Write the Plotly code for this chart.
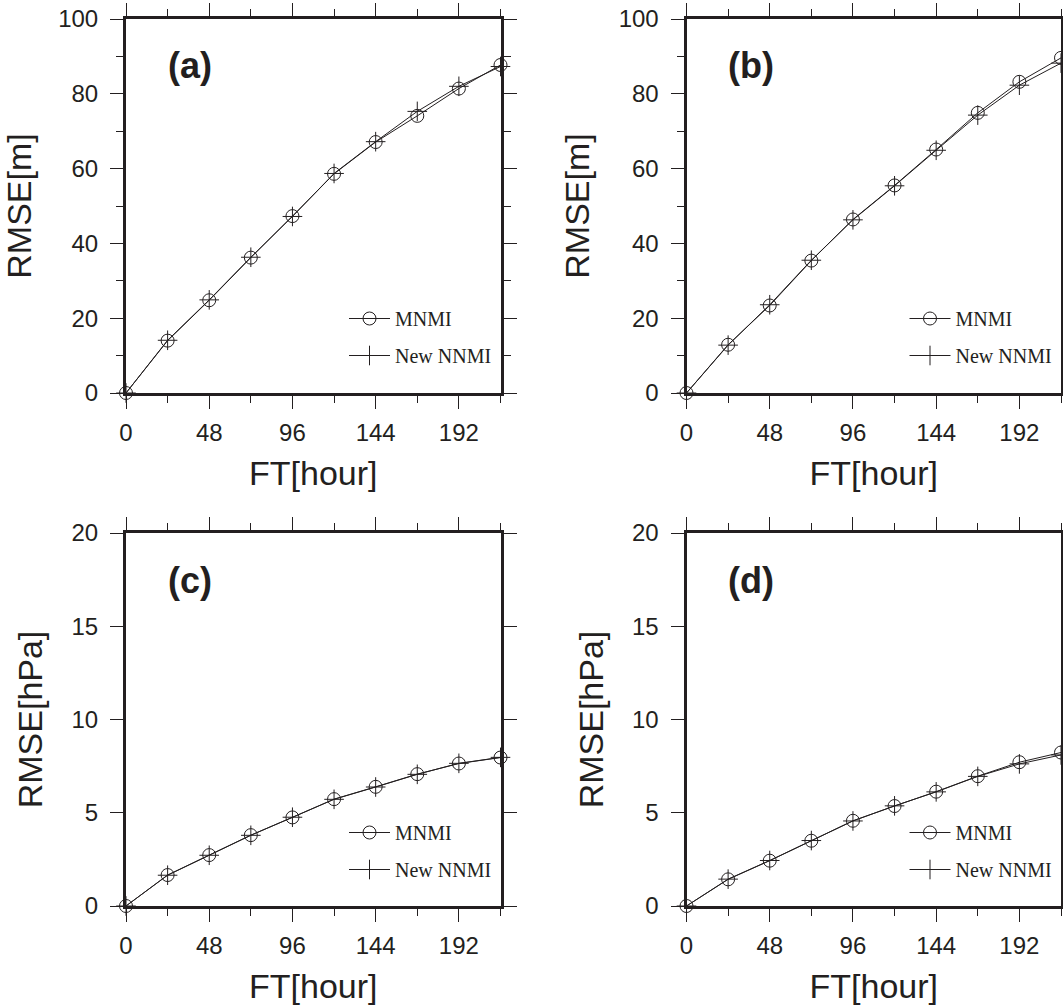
import plotly.graph_objects as go

ft = [0, 24, 48, 72, 96, 120, 144, 168, 192, 216]
a_mnmi = [0, 14.0, 24.8, 36.2, 47.3, 58.6, 67.1, 74.1, 81.4, 87.7]
a_new = [0, 14.1, 24.9, 36.3, 47.2, 58.7, 67.2, 75.3, 82.0, 87.3]
b_mnmi = [0, 12.9, 23.4, 35.4, 46.4, 55.5, 65.1, 74.9, 83.2, 89.6]
b_new = [0, 12.8, 23.6, 35.5, 46.3, 55.4, 64.9, 74.3, 82.3, 88.2]
c_mnmi = [0, 1.66, 2.73, 3.80, 4.75, 5.73, 6.39, 7.07, 7.64, 7.96]
c_new = [0, 1.65, 2.72, 3.79, 4.76, 5.72, 6.38, 7.06, 7.65, 7.97]
d_mnmi = [0, 1.43, 2.43, 3.50, 4.57, 5.36, 6.13, 6.96, 7.71, 8.23]
d_new = [0, 1.44, 2.44, 3.51, 4.56, 5.37, 6.12, 6.95, 7.62, 8.10]

panel_labels = ["(a)", "(b)", "(c)", "(d)"]
y_titles = ["RMSE[m]", "RMSE[m]", "RMSE[hPa]", "RMSE[hPa]"]
x_title = "FT[hour]"
series_names = ["MNMI", "New NNMI"]

W, H = 1063, 1007
SANS = "Liberation Sans, Arial, Helvetica, sans-serif"
SERIF = "Liberation Serif, Times New Roman, serif"
INK = "#231f20"

# panel geometry in pixels (left, right, top, bottom)
panels = [
    (126, 500.5, 19, 393),
    (686.5, 1061, 19, 393),
    (126, 500.5, 533, 906),
    (686.5, 1061, 533, 906),
]
data = [(a_mnmi, a_new), (b_mnmi, b_new), (c_mnmi, c_new), (d_mnmi, d_new)]
yranges = [(0, 100, 20, 10), (0, 100, 20, 10), (0, 20, 5, None), (0, 20, 5, None)]

fig = go.Figure()
layout = dict(
    width=W, height=H,
    margin=dict(l=0, r=0, t=0, b=0),
    paper_bgcolor="white", plot_bgcolor="white",
    showlegend=True,
    font=dict(family=SANS, color=INK),
)
annotations = []

for i, ((l, r, t, b), (s1, s2), (y0, y1, ydt, ymin)) in enumerate(zip(panels, data, yranges)):
    k = "" if i == 0 else str(i + 1)
    xa, ya = "x" + k, "y" + k
    leg = "legend" + k
    fig.add_trace(go.Scatter(
        x=ft, y=s1, name=series_names[0], xaxis=xa, yaxis=ya, legend=leg,
        legendgroup="m" + k, mode="lines+markers", cliponaxis=False,
        line=dict(color=INK, width=1),
        marker=dict(symbol="circle-open", size=13, color=INK, line=dict(width=1, color=INK)),
    ))
    fig.add_trace(go.Scatter(
        x=ft, y=s2, name=series_names[1], xaxis=xa, yaxis=ya, legend=leg,
        legendgroup="n" + k, mode="lines+markers", cliponaxis=False,
        line=dict(color=INK, width=1),
        marker=dict(symbol="cross-thin-open", size=14, color=INK, line=dict(width=1, color=INK)),
    ))
    common = dict(
        showline=True, linewidth=3, linecolor=INK, mirror="ticks",
        ticks="outside", ticklen=13, tickwidth=1.3, tickcolor=INK,
        showgrid=False, zeroline=False, automargin=False,
        tickfont=dict(family=SANS, size=24, color=INK),
        title_font=dict(family=SANS, size=34, color=INK),
    )
    layout["xaxis" + k] = dict(
        common,
        domain=[l / W, r / W], anchor=ya,
        range=[0, 216], tick0=0, dtick=48,
        minor=dict(dtick=24, ticklen=7, tickwidth=1.3, tickcolor=INK, ticks="outside"),
        title=dict(text=x_title, standoff=17),
        ticklabelstandoff=3,
    )
    yax = dict(
        common,
        domain=[1 - b / H, 1 - t / H], anchor=xa,
        range=[y0, y1], tick0=0, dtick=ydt,
        title=dict(text=y_titles[i], standoff=19),
        ticklabelstandoff=7,
    )
    if ymin:
        yax["minor"] = dict(dtick=ymin, ticklen=7, tickwidth=1.3, tickcolor=INK, ticks="outside")
    layout["yaxis" + k] = yax
    annotations.append(dict(
        text="<b>" + panel_labels[i] + "</b>", xref="paper", yref="paper",
        x=(l + 64) / W, y=1 - (t + 47) / H, xanchor="center", yanchor="middle",
        showarrow=False, font=dict(family=SANS, size=36, color=INK),
    ))
    layout[leg] = dict(
        x=(l + 218) / W, y=1 - (t + 280) / H, xanchor="left", yanchor="top",
        xref="paper", yref="paper",
        bgcolor="rgba(0,0,0,0)", borderwidth=0,
        font=dict(family=SERIF, size=20, color=INK),
        traceorder="grouped", tracegroupgap=8, itemwidth=41,
    )

layout["annotations"] = annotations
fig.update_layout(**layout)
fig.write_html("out.html")
